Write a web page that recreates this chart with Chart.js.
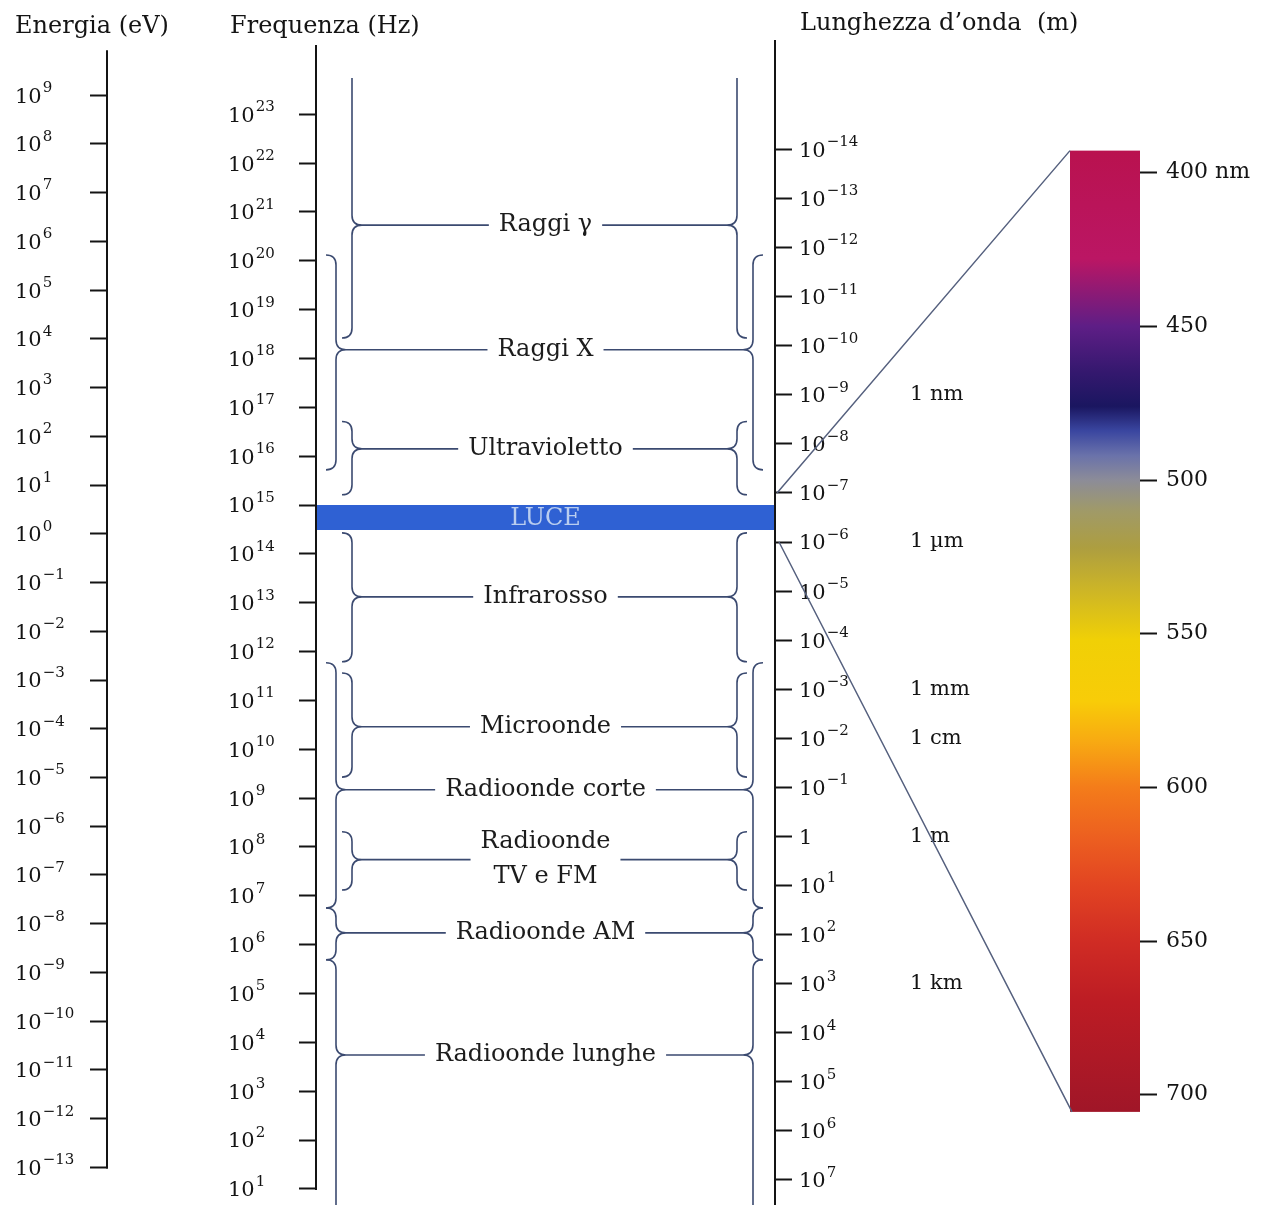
<!DOCTYPE html>
<html>
<head>
<meta charset="utf-8">
<script src="https://cdn.jsdelivr.net/npm/chart.js@4.4.1/dist/chart.umd.min.js"></script>
<style>
html, body { margin: 0; padding: 0; background: #fff; }
#wrap { width: 1261px; height: 1205px; }
</style>
</head>
<body>
<div id="wrap"><canvas id="spectrum" width="1261" height="1205"></canvas></div>
<script>
// Axis ticks (exponents of ten)
const energyTicks = [9, 8, 7, 6, 5, 4, 3, 2, 1, 0, -1, -2, -3, -4, -5, -6, -7, -8, -9, -10, -11, -12, -13];
const freqTicks = [23, 22, 21, 20, 19, 18, 17, 16, 15, 14, 13, 12, 11, 10, 9, 8, 7, 6, 5, 4, 3, 2, 1];
const waveTicks = [-14, -13, -12, -11, -10, -9, -8, -7, -6, -5, -4, -3, -2, -1, 0, 1, 2, 3, 4, 5, 6, 7];
const nmTicks = [400, 450, 500, 550, 600, 650, 700];

// Visible ranges of each axis
const energyRange = [-13.77, 10.13];
const freqRange = [0.67, 24.52];
const waveRange = [-16.23, 7.51];
const nmRange = [356.8, 735.9];

// How far each axis line runs
const energyLine = [-13, 9.92];
const freqLine = [1, 24.42];
const waveLine = [-16.23, 7.51];

// Bands, in log10(Hz)
const bandNames = ['Raggi γ', 'Raggi X', 'Ultravioletto', 'Infrarosso', 'Microonde',
    'Radioonde corte', 'Radioonde\nTV e FM', 'Radioonde AM', 'Radioonde lunghe'];
const bandTop = [23.74, 20.12, 16.71, 14.43, 11.56, 11.77, 8.31, 6.75, 5.69];
const bandTip = [20.73, 18.18, 16.15, 13.12, 10.46, 9.17, 7.74, 6.24, 3.74];
const bandBottom = [18.42, 15.72, 15.21, 11.79, 9.43, 6.75, 7.12, 5.69, 0.67];
const bandLane = ['inner', 'outer', 'inner', 'inner', 'inner', 'outer', 'inner', 'outer', 'outer'];
const bandOpen = ['top', '', '', '', '', '', '', '', 'bottom'];

// Visible light band (log10 Hz)
const luceBand = [14.49, 15.0];

// Wavelength unit marks (log10 m)
const unitExps = [-9, -6, -3, -2, 0, 3];
const unitTexts = ['1 nm', '1 µm', '1 mm', '1 cm', '1 m', '1 km'];

// Zoom lines start on the wavelength axis (log10 m)
const zoomFrom = [-7, -6];

// Visible spectrum strip
const barNm = [392.8, 705.6];
const spectrumNm = [393, 428, 450, 465, 476, 484, 492, 500, 510, 522, 535, 552, 572, 585, 600, 617, 632, 650, 670, 706];
const spectrumColor = ['#b9124f', '#bb1664', '#5e1e86', '#34186e', '#1a1660', '#3a46a0', '#6a72aa', '#8c8c98',
    '#a09a68', '#ad9e40', '#cbb428', '#f0d006', '#f8cc08', '#f8aa12', '#f47c1a', '#ec5e20', '#e24422',
    '#d02c24', '#bc1c24', '#a01628'];

const serif = "'DejaVu Serif', 'Liberation Serif', serif";
const ink = '#141414';
const braceInk = '#3b4a70';

function fixedWidth(w) {
    return function(scale) {
        scale.width = w;
        scale.paddingTop = 0;
        scale.paddingBottom = 0;
    };
}

function setTicks(values) {
    return function(scale) {
        scale.ticks = values.map(v => ({value: v}));
    };
}

const tickGrid = {drawOnChartArea: false, drawTicks: true, tickLength: 18, tickWidth: 2, tickColor: ink};

// "10" with a raised exponent, at each tick of the scale
function drawPowerTicks(ctx, scale, x, oneAtZero) {
    ctx.textAlign = 'left';
    ctx.textBaseline = 'middle';
    scale.ticks.forEach(t => {
        const y = scale.getPixelForValue(t.value) + 2;
        ctx.font = '21px ' + serif;
        if (oneAtZero && t.value === 0) {
            ctx.fillText('1', x, y);
            return;
        }
        ctx.fillText('10', x, y);
        const w = ctx.measureText('10').width;
        ctx.font = '15px ' + serif;
        ctx.fillText(String(t.value).replace('-', '−'), x + w + 1, y - 9);
    });
}

function drawBrace(ctx, x, yTop, yTip, yBot, dir, r, openTop, openBot) {
    ctx.beginPath();
    if (openTop) {
        ctx.moveTo(x, yTop);
    } else {
        ctx.moveTo(x - dir * r, yTop);
        ctx.quadraticCurveTo(x, yTop, x, yTop + r);
    }
    ctx.lineTo(x, yTip - r);
    ctx.quadraticCurveTo(x, yTip, x + dir * r, yTip);
    ctx.quadraticCurveTo(x, yTip, x, yTip + r);
    if (openBot) {
        ctx.lineTo(x, yBot);
    } else {
        ctx.lineTo(x, yBot - r);
        ctx.quadraticCurveTo(x, yBot, x - dir * r, yBot);
    }
    ctx.stroke();
}

const spectrumDecor = {
    id: 'spectrumDecor',
    afterDraw(chart) {
        const ctx = chart.ctx;
        const area = chart.chartArea;
        const s = chart.scales;
        ctx.save();

        // axis lines
        ctx.strokeStyle = ink;
        ctx.lineWidth = 2;
        ctx.beginPath();
        ctx.moveTo(s.energy.right - 1, s.energy.getPixelForValue(energyLine[1]));
        ctx.lineTo(s.energy.right - 1, s.energy.getPixelForValue(energyLine[0]) + 1);
        ctx.moveTo(s.freq.right - 1, s.freq.getPixelForValue(freqLine[1]));
        ctx.lineTo(s.freq.right - 1, s.freq.getPixelForValue(freqLine[0]) + 1);
        ctx.moveTo(s.wave.left + 1, s.wave.getPixelForValue(waveLine[0]));
        ctx.lineTo(s.wave.left + 1, s.wave.getPixelForValue(waveLine[1]));
        ctx.stroke();

        // tick labels
        ctx.fillStyle = ink;
        drawPowerTicks(ctx, s.energy, s.energy.left, false);
        drawPowerTicks(ctx, s.freq, s.freq.left, false);
        drawPowerTicks(ctx, s.wave, s.wave.left + 25, true);

        // axis titles
        ctx.font = '24px ' + serif;
        ctx.textBaseline = 'alphabetic';
        ctx.textAlign = 'left';
        ctx.fillText('Energia (eV)', s.energy.left, 33);
        ctx.fillText('Frequenza (Hz)', s.freq.left + 2, 33);
        ctx.fillText('Lunghezza d’onda  (m)', s.wave.left + 26, 30);

        // band braces and labels
        ctx.strokeStyle = braceInk;
        ctx.lineWidth = 1.6;
        const cx = (area.left + area.right) / 2;
        const r = 10;
        ctx.font = '24px ' + serif;
        ctx.textAlign = 'center';
        ctx.textBaseline = 'middle';
        bandNames.forEach((name, i) => {
            const yTop = s.freq.getPixelForValue(bandTop[i]);
            const yTip = s.freq.getPixelForValue(bandTip[i]);
            const yBot = s.freq.getPixelForValue(bandBottom[i]);
            const openTop = bandOpen[i] === 'top';
            const openBot = bandOpen[i] === 'bottom';
            const xl = area.left + (bandLane[i] === 'inner' ? 35 : 19);
            const xr = area.right - (bandLane[i] === 'inner' ? 37 : 21);
            drawBrace(ctx, xl, yTop, yTip, yBot, 1, r, openTop, openBot);
            drawBrace(ctx, xr, yTop, yTip, yBot, -1, r, openTop, openBot);

            const lines = name.split('\n');
            const w = Math.max(...lines.map(t => ctx.measureText(t).width));
            ctx.beginPath();
            ctx.moveTo(xl + r, yTip);
            ctx.lineTo(cx - w / 2 - 10, yTip);
            ctx.moveTo(cx + w / 2 + 10, yTip);
            ctx.lineTo(xr - r, yTip);
            ctx.stroke();

            ctx.fillStyle = '#1c1c1c';
            if (lines.length === 1) {
                ctx.fillText(name, cx, yTip);
            } else {
                ctx.fillText(lines[0], cx, yTip - 18);
                ctx.fillText(lines[1], cx, yTip + 17);
            }
        });

        // LUCE label on the blue band
        ctx.fillStyle = '#b9cdef';
        ctx.font = '24px ' + serif;
        ctx.fillText('LUCE', cx, s.freq.getPixelForValue((luceBand[0] + luceBand[1]) / 2) + 1);

        // wavelength unit marks
        ctx.fillStyle = ink;
        ctx.font = '21px ' + serif;
        ctx.textAlign = 'left';
        unitExps.forEach((e, i) => {
            ctx.fillText(unitTexts[i], s.wave.left + 136, s.wave.getPixelForValue(e));
        });

        // visible spectrum strip
        const barRight = s.nm.left;
        const barLeft = barRight - 70;
        const barTop = s.nm.getPixelForValue(barNm[0]);
        const barBot = s.nm.getPixelForValue(barNm[1]);
        const grad = ctx.createLinearGradient(0, barTop, 0, barBot);
        spectrumNm.forEach((nm, i) => {
            const t = (nm - barNm[0]) / (barNm[1] - barNm[0]);
            grad.addColorStop(Math.min(1, Math.max(0, t)), spectrumColor[i]);
        });
        ctx.fillStyle = grad;
        ctx.fillRect(barLeft, barTop, barRight - barLeft, barBot - barTop);

        // zoom lines from the wavelength axis to the strip
        ctx.strokeStyle = '#55607e';
        ctx.lineWidth = 1.5;
        ctx.beginPath();
        ctx.moveTo(s.wave.left + 3, s.wave.getPixelForValue(zoomFrom[0]));
        ctx.lineTo(barLeft, barTop);
        ctx.moveTo(s.wave.left + 5, s.wave.getPixelForValue(zoomFrom[1]));
        ctx.lineTo(barLeft + 2, barBot);
        ctx.stroke();

        ctx.restore();
    }
};

const hiddenTicks = {display: false};

new Chart(document.getElementById('spectrum'), {
    type: 'line',
    data: {
        datasets: [{
            label: 'LUCE',
            data: [{x: 0, y: luceBand[1]}, {x: 1, y: luceBand[1]}],
            xAxisID: 'x',
            yAxisID: 'freq',
            fill: {value: luceBand[0]},
            backgroundColor: '#2f61d3',
            borderWidth: 0,
            pointRadius: 0
        }]
    },
    options: {
        responsive: false,
        animation: false,
        devicePixelRatio: 1,
        events: [],
        layout: {padding: {top: 40, left: 15, right: 0, bottom: 0}},
        plugins: {legend: {display: false}, tooltip: {enabled: false}},
        scales: {
            x: {type: 'linear', min: 0, max: 1, display: false},
            energy: {
                type: 'linear', position: 'left', weight: 3,
                min: energyRange[0], max: energyRange[1],
                afterBuildTicks: setTicks(energyTicks),
                afterFit: fixedWidth(93),
                border: {display: false},
                grid: tickGrid,
                ticks: hiddenTicks
            },
            gap: {
                type: 'linear', position: 'left', weight: 2,
                afterFit: fixedWidth(120),
                border: {display: false},
                grid: {display: false},
                ticks: hiddenTicks
            },
            freq: {
                type: 'linear', position: 'left', weight: 1,
                min: freqRange[0], max: freqRange[1],
                afterBuildTicks: setTicks(freqTicks),
                afterFit: fixedWidth(89),
                border: {display: false},
                grid: tickGrid,
                ticks: hiddenTicks
            },
            wave: {
                type: 'linear', position: 'right', weight: 1, reverse: true,
                min: waveRange[0], max: waveRange[1],
                afterBuildTicks: setTicks(waveTicks),
                afterFit: fixedWidth(366),
                border: {display: false},
                grid: tickGrid,
                ticks: hiddenTicks
            },
            nm: {
                type: 'linear', position: 'right', weight: 2, reverse: true,
                min: nmRange[0], max: nmRange[1],
                afterBuildTicks: setTicks(nmTicks),
                afterFit: fixedWidth(121),
                border: {display: false},
                grid: {drawOnChartArea: false, drawTicks: true, tickLength: 17, tickWidth: 2, tickColor: ink},
                ticks: {crossAlign: 'near', padding: 9, autoSkip: false, color: ink, font: {family: serif, size: 22},
                    callback: v => (v === 400 ? '400 nm' : String(v))}
            }
        }
    },
    plugins: [spectrumDecor]
});
</script>
</body>
</html>
